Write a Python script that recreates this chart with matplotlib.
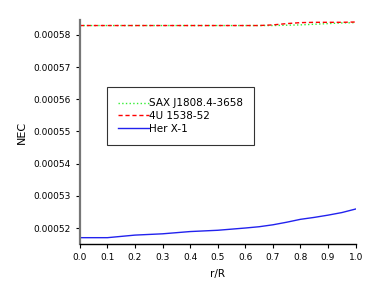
import numpy as np
import matplotlib.pyplot as plt

# Data
r = [0.0, 0.1, 0.2, 0.3, 0.4, 0.5, 0.6, 0.65, 0.7, 0.75, 0.8, 0.85, 0.9, 0.95, 1.0]
sax = [0.0005829, 0.0005829, 0.0005829, 0.0005829, 0.0005829, 0.0005829, 0.0005829,
       0.0005829, 0.0005829, 0.000583, 0.0005831, 0.0005833, 0.0005835, 0.0005837, 0.0005838]
u1538 = [0.0005829, 0.0005829, 0.0005829, 0.0005829, 0.0005829, 0.0005829, 0.0005829,
         0.0005829, 0.0005831, 0.0005835, 0.0005838, 0.0005839, 0.0005839, 0.0005839, 0.000584]
herx1 = [0.000517, 0.000517, 0.0005178, 0.0005182, 0.0005189, 0.0005193, 0.00052,
         0.0005204, 0.000521, 0.0005218, 0.0005227, 0.0005233, 0.000524, 0.0005248, 0.0005259]

xticks = np.arange(0, 1.01, 0.1)
yticks = [0.00052, 0.00053, 0.00054, 0.00055, 0.00056, 0.00057, 0.00058]

fig = plt.figure(figsize=(3.82, 3.04), dpi=100)
ax = fig.add_axes([0.209, 0.197, 0.722, 0.737])

ax.plot(r, sax, color='#33ee33', linestyle=':', linewidth=1.0, label='SAX J1808.4-3658')
ax.plot(r, u1538, color='red', linestyle='--', linewidth=1.0, dashes=(3, 2), label='4U 1538-52')
ax.plot(r, herx1, color='#2222ee', linestyle='-', linewidth=1.0, label='Her X-1')

ax.set_xlim(0, 1.0)
ax.set_ylim(0.000515, 0.0005846)
ax.set_xticks(xticks)
ax.set_xticklabels(['%.1f' % v for v in xticks])
ax.set_yticks(yticks)
ax.set_yticklabels(['%.5f' % v for v in yticks])
ax.tick_params(labelsize=6.5, length=3, width=0.8, direction='out')

ax.spines['top'].set_visible(False)
ax.spines['right'].set_visible(False)
ax.spines['left'].set_color('#777777')
ax.spines['left'].set_linewidth(1.6)
ax.spines['bottom'].set_linewidth(1.0)

ax.set_xlabel('r/R', fontsize=7.5, labelpad=5)
ax.set_ylabel('NEC', fontsize=8, labelpad=5)

leg = ax.legend(loc='upper left', bbox_to_anchor=(0.098, 0.70), fontsize=7.5,
                frameon=True, fancybox=False, edgecolor='black', handlelength=3.0,
                handletextpad=0.0, borderpad=1.05, labelspacing=0.28, borderaxespad=0.0)
leg.get_frame().set_linewidth(0.8)

fig.savefig('out.png', dpi=100)
